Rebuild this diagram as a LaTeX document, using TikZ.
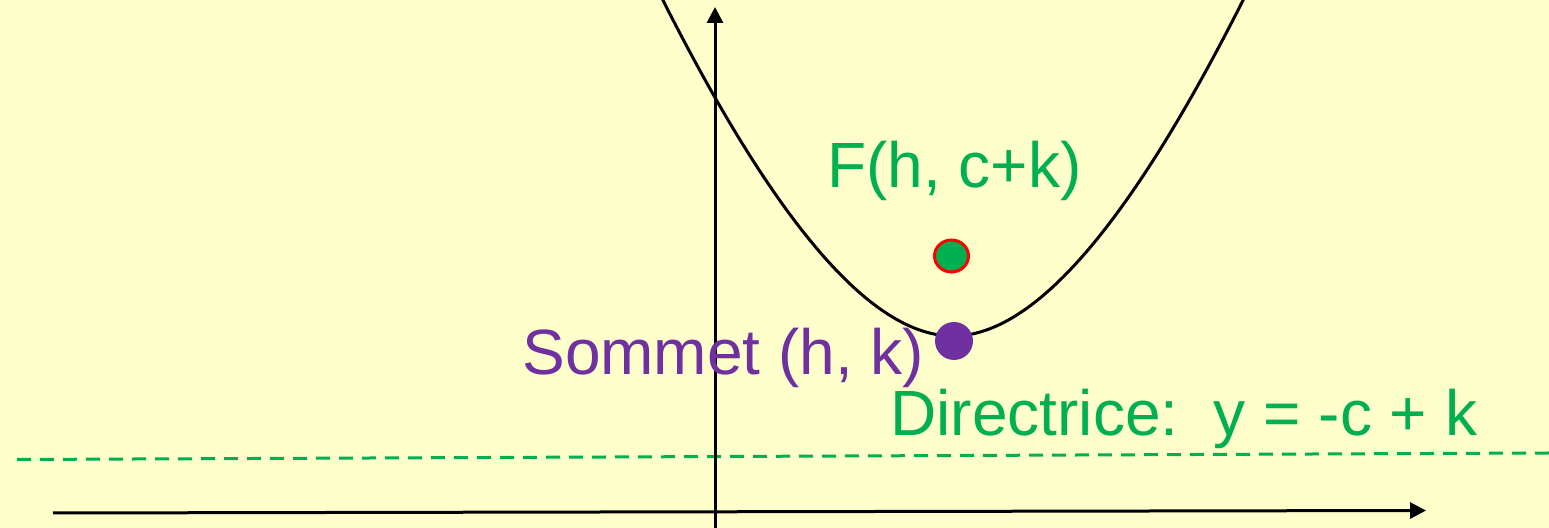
\documentclass[tikz,border=0pt]{standalone}
\usepackage{fontspec}
\setmainfont{Liberation Sans}
\usetikzlibrary{arrows.meta,shapes.geometric}
\definecolor{bg}{HTML}{FFFFCC}
\definecolor{okgreen}{HTML}{00B050}
\definecolor{okpurple}{HTML}{7030A0}
\tikzset{
  axis/.style={line width=1.5pt,-{Triangle[length=8pt,width=8pt]}},
  curve/.style={line width=1.5pt},
  directrix/.style={okgreen,line width=1.5pt,dash pattern=on 7pt off 4.5pt},
  lbl/.style={anchor=base west,inner sep=0pt,font=\fontsize{32}{38}\selectfont},
}
\begin{document}
\begin{tikzpicture}[x=0.5pt,y=-0.5pt]
\fill[bg] (0,0) rectangle (1549,528);
\useasboundingbox (0,0) rectangle (1549,528);
\begin{scope}
\clip (0,0) rectangle (1549,528);
% directrix
\coordinate (dL) at (17,459.5);
\coordinate (dR) at (1549,453);
\draw[directrix] (dL) -- (dR);
% axes
\coordinate (xS) at (53,513);
\coordinate (xE) at (1426,510.5);
\coordinate (yS) at (715,530);
\coordinate (yE) at (715,7);
\draw[axis] (xS) -- (xE);
\draw[axis] (yS) -- (yE);
% parabola
\draw[curve,smooth] plot[domain=-300:300,samples=121,variable=\t]
  ({953+\t},{336-(\t/10)*(\t/10)/(1.78+0.0025*abs(\t))});
\end{scope}
% points
\node[ellipse,draw=red,fill=okgreen,line width=1.5pt,minimum width=17pt,minimum height=16pt,inner sep=0pt] (F) at (951.5,256) {};
\node[circle,fill=okpurple,minimum size=19pt,inner sep=0pt] (V) at (954,341) {};
% labels
\node[lbl,text=okgreen] (Flbl) at (827,188) {F(h, c+k)};
\node[lbl,text=okpurple] (Vlbl) at (522,375) {Sommet (h, k)};
\node[lbl,text=okgreen] (Dlbl) at (890,436) {Directrice:\ \ y = -c + k};
\end{tikzpicture}
\end{document}
